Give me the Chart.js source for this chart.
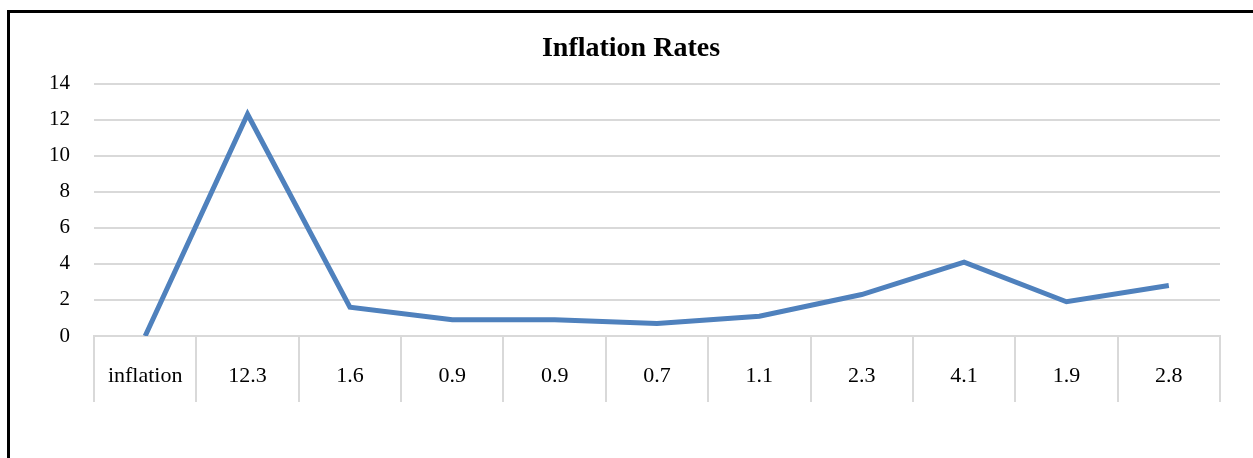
<!DOCTYPE html>
<html>
<head>
<meta charset="utf-8">
<script src="https://cdn.jsdelivr.net/npm/chart.js@4"></script>
<style>
  html, body { margin: 0; padding: 0; background: #fff; }
  #wrap { position: relative; width: 1253px; height: 458px; overflow: hidden; }
  #frame {
    position: absolute; left: 7px; top: 10px; width: 1300px; height: 500px;
    border-left: 3px solid #000; border-top: 3px solid #000;
  }
  canvas { position: absolute; left: 0; top: 0; }
</style>
</head>
<body>
<div id="wrap">
  <div id="frame"></div>
  <canvas id="chart" width="1253" height="458"></canvas>
</div>
<script>
// ------------------------
// Data
// ------------------------
const categories = ['inflation', '12.3', '1.6', '0.9', '0.9', '0.7', '1.1', '2.3', '4.1', '1.9', '2.8']
const inflation = [0, 12.3, 1.6, 0.9, 0.9, 0.7, 1.1, 2.3, 4.1, 1.9, 2.8]
const yTicks = [0, 2, 4, 6, 8, 10, 12, 14]

const serif = "'Liberation Serif', 'Times New Roman', serif"
const gridColor = '#d9d9d9'

const element = document.querySelector('#chart')

// eslint-disable-next-line no-new
new Chart(element, {
  type: 'line',

  data: {
    labels: categories,
    datasets: [
      {
        label: 'inflation',
        data: inflation,
        borderColor: '#4f81bd',
        borderWidth: 5,
        pointRadius: 0,
        tension: 0,
        fill: false,
      },
    ],
  },

  options: {
    responsive: false,
    animation: false,

    // left padding keeps the title centred on the whole frame
    layout: {
      padding: { top: 32, left: 42, right: 33, bottom: 0 },
    },

    scales: {
      x: {
        offset: true,
        afterFit: (scale) => { scale.height = 122 },
        border: { color: gridColor, width: 2 },
        grid: {
          offset: true,
          drawOnChartArea: false,
          drawTicks: true,
          tickLength: 66,
          tickColor: gridColor,
          lineWidth: 2,
          color: gridColor,
        },
        ticks: {
          color: '#000',
          padding: -39,
          maxRotation: 0,
          font: { family: serif, size: 22 },
        },
      },
      y: {
        min: yTicks[0],
        max: yTicks[yTicks.length - 1],
        afterFit: (scale) => { scale.width = 52 },
        afterBuildTicks: (scale) => { scale.ticks = yTicks.map((value) => ({ value })) },
        border: { display: false },
        grid: {
          color: gridColor,
          lineWidth: 2,
          drawTicks: false,
        },
        ticks: {
          color: '#000',
          padding: 24,
          font: { family: serif, size: 21 },
        },
      },
    },

    plugins: {
      legend: { display: false },
      tooltip: { enabled: false },
      title: {
        display: true,
        text: 'Inflation Rates',
        color: '#000',
        padding: { top: 0, bottom: 18 },
        font: { family: serif, size: 28, weight: 'bold' },
      },
    },
  },
})
</script>
</body>
</html>
